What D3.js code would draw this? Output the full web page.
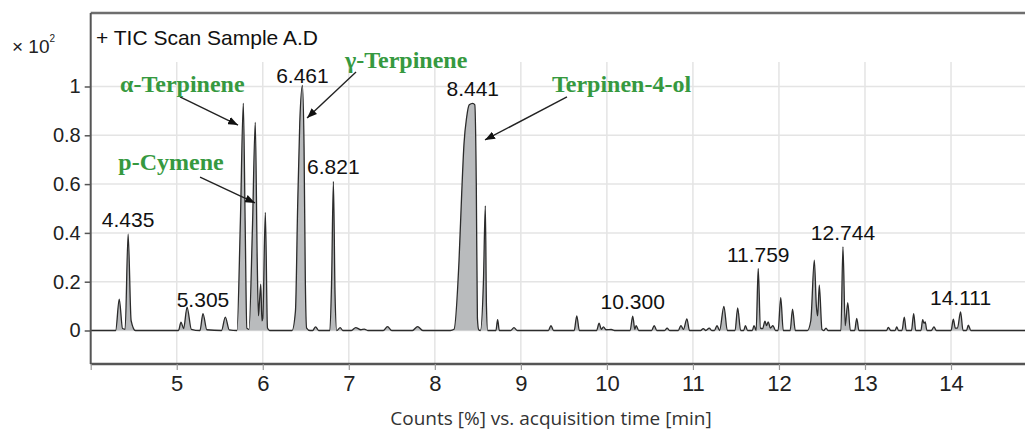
<!DOCTYPE html>
<html>
<head>
<meta charset="utf-8">
<script src="https://cdn.jsdelivr.net/npm/d3@7"></script>
<style>
  body { margin: 0; background: #fff; }
  svg { display: block; font-family: "Liberation Sans", Arial, sans-serif; }
</style>
</head>
<body>
<svg width="1025" height="430"></svg>
<script>
// chromatogram trace (time in min, counts x10^2)
var traceTime = [
  4.00, 4.29, 4.332, 4.37, 4.40, 4.435, 4.47, 4.52,
  5.02, 5.05, 5.08, 5.12, 5.17, 5.27, 5.305, 5.35, 5.52, 5.565, 5.61,
  5.70, 5.74, 5.774, 5.795, 5.815, 5.84, 5.88, 5.913, 5.935, 5.95, 5.962, 5.977, 5.99, 6.00, 6.03, 6.055, 6.08,
  6.34, 6.38, 6.405, 6.43, 6.461, 6.48, 6.495, 6.51, 6.55,
  6.58, 6.614, 6.65, 6.78, 6.80, 6.821, 6.84, 6.86, 6.90, 6.93,
  7.03, 7.08, 7.14, 7.18, 7.22, 7.40, 7.45, 7.50, 7.74, 7.80, 7.86,
  8.18, 8.223, 8.281, 8.312, 8.339, 8.37, 8.40, 8.441, 8.465, 8.482, 8.495, 8.51,
  8.53, 8.565, 8.587, 8.60, 8.615,
  8.71, 8.73, 8.75, 8.88, 8.92, 8.96, 9.32, 9.35, 9.38, 9.62, 9.65, 9.68,
  9.88, 9.91, 9.935, 9.96, 9.99, 10.05, 10.10,
  10.27, 10.30, 10.325, 10.34, 10.37, 10.52, 10.55, 10.58, 10.67, 10.70, 10.73,
  10.83, 10.86, 10.89, 10.93, 10.96, 11.09, 11.12, 11.15, 11.19, 11.22,
  11.25, 11.28, 11.31, 11.36, 11.40, 11.49, 11.52, 11.555, 11.59, 11.61, 11.635,
  11.69, 11.71, 11.735, 11.759, 11.785, 11.81, 11.838, 11.855, 11.876, 11.90, 11.93, 11.96,
  11.99, 12.021, 12.05, 12.13, 12.158, 12.19,
  12.33, 12.37, 12.411, 12.435, 12.45, 12.469, 12.50, 12.52, 12.547, 12.57,
  12.72, 12.744, 12.77, 12.80, 12.83, 12.88, 12.904, 12.93,
  13.25, 13.271, 13.30, 13.35, 13.369, 13.39, 13.43, 13.457, 13.48, 13.54, 13.566, 13.59,
  13.65, 13.671, 13.685, 13.70, 13.72, 13.77, 13.802, 13.83,
  14.00, 14.027, 14.05, 14.075, 14.111, 14.14, 14.18, 14.201, 14.23, 14.86
];
var traceCount = [
  0, 0, 0.128, 0.008, 0.005, 0.395, 0.04, 0,
  0, 0.034, 0.008, 0.096, 0.005, 0, 0.069, 0.003, 0, 0.055, 0.003,
  0, 0.45, 0.931, 0.45, 0.01, 0.005, 0.42, 0.853, 0.3, 0.06, 0.12, 0.19, 0.04, 0.05, 0.484, 0.01, 0,
  0, 0.08, 0.5, 0.85, 1.004, 0.75, 0.2, 0.01, 0,
  0, 0.015, 0, 0, 0.2, 0.611, 0.15, 0, 0.012, 0,
  0, 0.012, 0.003, 0.006, 0, 0, 0.016, 0, 0, 0.016, 0,
  0, 0.005, 0.285, 0.559, 0.765, 0.874, 0.925, 0.931, 0.925, 0.6, 0.05, 0.003,
  0, 0.2, 0.511, 0.1, 0,
  0, 0.044, 0, 0, 0.012, 0, 0, 0.02, 0, 0, 0.06, 0,
  0, 0.03, 0.005, 0.015, 0.003, 0.004, 0,
  0, 0.059, 0.005, 0.02, 0, 0, 0.02, 0, 0, 0.01, 0,
  0, 0.02, 0.005, 0.048, 0, 0, 0.008, 0, 0.01, 0,
  0, 0.02, 0, 0.099, 0, 0, 0.093, 0, 0, 0.02, 0,
  0, 0.02, 0, 0.254, 0.01, 0.008, 0.038, 0.02, 0.035, 0.01, 0.02, 0,
  0, 0.135, 0, 0, 0.087, 0,
  0, 0.04, 0.288, 0.1, 0.06, 0.186, 0.005, 0, 0.01, 0,
  0, 0.343, 0.02, 0.114, 0, 0, 0.05, 0,
  0, 0.013, 0, 0, 0.015, 0, 0, 0.055, 0, 0, 0.069, 0,
  0, 0.044, 0.03, 0.035, 0, 0, 0.015, 0,
  0, 0.046, 0.01, 0.01, 0.076, 0, 0, 0.022, 0, 0
];

// labelled retention times and the peak height under each label
var peakLabelTime = [4.435, 5.305, 6.461, 6.821, 8.441, 10.300, 11.759, 12.744, 14.111];
var peakLabelText = ["4.435", "5.305", "6.461", "6.821", "8.441", "10.300", "11.759", "12.744", "14.111"];
var peakLabelHeight = [0.395, 0.069, 0.985, 0.611, 0.931, 0.059, 0.254, 0.343, 0.076];

var xTicks = [4, 5, 6, 7, 8, 9, 10, 11, 12, 13, 14];
var yTicks = [0, 0.2, 0.4, 0.6, 0.8, 1];

// compound names with their arrows (text anchor and arrow in data units)
var compoundName = ["α-Terpinene", "p-Cymene", "γ-Terpinene", "Terpinen-4-ol"];
var compoundTextAt = [[4.341, 0.979], [4.321, 0.658], [6.956, 1.076], [9.362, 0.979]];
var compoundArrowFrom = [[5.038, 0.957], [5.271, 0.629], [7.084, 1.059], [9.536, 0.957]];
var compoundArrowTo = [[5.712, 0.842], [5.91, 0.523], [6.515, 0.871], [8.583, 0.781]];

var svg = d3.select("svg");
var width = +svg.attr("width");

var plotLeft = 90.7, plotTop = 13, plotBottom = 364;

var x = d3.scaleLinear().domain([4, 14.86]).range([plotLeft, width]);
var y = d3.scaleLinear().domain([-0.1373, 1.3012]).range([plotBottom, plotTop]);

var trace = traceTime.map(function(t, i) { return [t, traceCount[i]]; });

// grid
var grid = svg.append("g").attr("class", "grid")
    .attr("stroke", "#e4e4e4")
    .attr("stroke-width", 1.5);
grid.selectAll("line.h").data(yTicks).enter().append("line")
    .attr("class", "h")
    .attr("x1", plotLeft).attr("x2", width)
    .attr("y1", function(d) { return y(d); })
    .attr("y2", function(d) { return y(d); });
grid.selectAll("line.v").data(xTicks.slice(1)).enter().append("line")
    .attr("class", "v")
    .attr("x1", function(d) { return x(d); })
    .attr("x2", function(d) { return x(d); })
    .attr("y1", y(1.1)).attr("y2", plotBottom);

// trace
var area = d3.area()
    .x(function(d) { return x(d[0]); })
    .y0(y(0))
    .y1(function(d) { return y(d[1]); })
    .curve(d3.curveMonotoneX);
var line = d3.line()
    .x(function(d) { return x(d[0]); })
    .y(function(d) { return y(d[1]); })
    .curve(d3.curveMonotoneX);

svg.append("path")
    .datum(trace)
    .attr("d", area)
    .attr("fill", "#b9bbbd");
svg.append("path")
    .datum(trace)
    .attr("d", line)
    .attr("fill", "none")
    .attr("stroke", "#2b2b2b")
    .attr("stroke-width", 1.3)
    .attr("stroke-linejoin", "round");

// frame
svg.append("line")
    .attr("x1", plotLeft).attr("x2", width).attr("y1", plotTop).attr("y2", plotTop)
    .attr("stroke", "#6e6e6e").attr("stroke-width", 2.5);
svg.append("line")
    .attr("x1", plotLeft).attr("x2", plotLeft).attr("y1", plotTop).attr("y2", plotBottom)
    .attr("stroke", "#555").attr("stroke-width", 2);

// axes
var xAxis = svg.append("g")
    .attr("transform", "translate(0," + plotBottom + ")")
    .call(d3.axisBottom(x).tickValues(xTicks).tickSize(6).tickPadding(5)
        .tickFormat(function(d) { return d === 4 ? "" : d; }));
xAxis.select(".domain").attr("stroke", "#555").attr("stroke-width", 2.5)
    .attr("d", "M" + plotLeft + ",0H" + width);
xAxis.selectAll(".tick line").attr("stroke", "#999").attr("stroke-width", 1.2);
xAxis.selectAll(".tick text")
    .attr("fill", "#222")
    .style("font-family", "'Liberation Sans', Arial, sans-serif")
    .style("font-size", "22px");

var yAxis = svg.append("g")
    .attr("transform", "translate(" + plotLeft + ",0)")
    .call(d3.axisLeft(y).tickValues(yTicks).tickSize(6).tickPadding(4)
        .tickFormat(d3.format("")));
yAxis.select(".domain").remove();
yAxis.selectAll(".tick line").attr("stroke", "#555").attr("stroke-width", 1.5);
yAxis.selectAll(".tick text")
    .attr("fill", "#222")
    .style("font-family", "'Liberation Sans', Arial, sans-serif")
    .style("font-size", "20px");

// scale factor and title
var mult = svg.append("text")
    .attr("x", 12).attr("y", 53)
    .attr("fill", "#222")
    .style("font-size", "19px");
mult.append("tspan").text("× 10");
mult.append("tspan").attr("dy", -11).style("font-size", "10px").text("2");

svg.append("text")
    .attr("x", 96).attr("y", 45)
    .attr("fill", "#111")
    .style("font-size", "21px")
    .text("+ TIC Scan Sample A.D");

svg.append("text")
    .attr("x", 551).attr("y", 425)
    .attr("text-anchor", "middle")
    .attr("fill", "#333")
    .style("font-family", "'Open Sans', sans-serif")
    .style("font-size", "19px")
    .text("Counts [%] vs. acquisition time [min]");

// peak labels
svg.append("g").selectAll("text")
    .data(peakLabelTime)
    .enter().append("text")
    .attr("x", function(d) { return x(d); })
    .attr("y", function(d, i) { return y(peakLabelHeight[i]) - 7; })
    .attr("text-anchor", "middle")
    .attr("fill", "#111")
    .style("font-size", "21px")
    .text(function(d, i) { return peakLabelText[i]; });

// compound names and arrows
svg.append("defs").append("marker")
    .attr("id", "head")
    .attr("viewBox", "0 0 10 8")
    .attr("refX", 10).attr("refY", 4)
    .attr("markerWidth", 10).attr("markerHeight", 8)
    .attr("markerUnits", "userSpaceOnUse")
    .attr("orient", "auto")
    .append("path")
    .attr("d", "M0,0L10,4L0,8Z")
    .attr("fill", "#111");

var anno = svg.append("g").attr("class", "anno");
anno.selectAll("line").data(compoundName).enter().append("line")
    .attr("x1", function(d, i) { return x(compoundArrowFrom[i][0]); })
    .attr("y1", function(d, i) { return y(compoundArrowFrom[i][1]); })
    .attr("x2", function(d, i) { return x(compoundArrowTo[i][0]); })
    .attr("y2", function(d, i) { return y(compoundArrowTo[i][1]); })
    .attr("stroke", "#222")
    .attr("stroke-width", 1.4)
    .attr("marker-end", "url(#head)");
anno.selectAll("text").data(compoundName).enter().append("text")
    .attr("x", function(d, i) { return x(compoundTextAt[i][0]); })
    .attr("y", function(d, i) { return y(compoundTextAt[i][1]); })
    .attr("fill", "#36993f")
    .style("font-family", "'Liberation Serif', 'Times New Roman', serif")
    .style("font-weight", "bold")
    .style("font-size", "24px")
    .text(function(d) { return d; });
</script>
</body>
</html>
